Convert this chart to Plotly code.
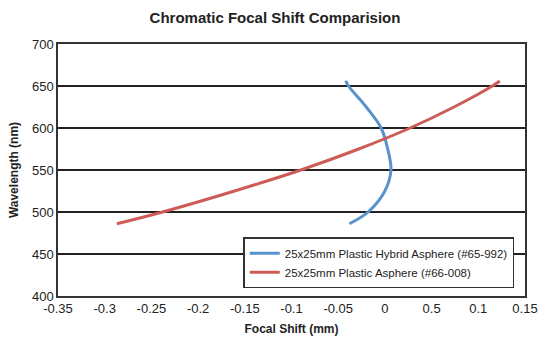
import plotly.graph_objects as go

# Wavelength samples (nm) and focal shift (mm) for each lens
wavelength_hybrid = [486, 500, 525, 550, 575, 600, 625, 650, 656]
shift_hybrid = [-0.038, -0.018, 0.000, 0.0065, 0.003, -0.004, -0.020, -0.039, -0.042]

wavelength_plastic = [486, 500, 525, 550, 575, 600, 625, 650, 656]
shift_plastic = [-0.287, -0.238, -0.161, -0.090, -0.028, 0.027, 0.074, 0.115, 0.123]

name_hybrid = "25x25mm Plastic Hybrid Asphere (#65-992)"
name_plastic = "25x25mm Plastic Asphere (#66-008)"

x_tick_vals = [-0.35, -0.3, -0.25, -0.2, -0.15, -0.1, -0.05, 0, 0.05, 0.1, 0.15]
x_tick_text = ["-0.35", "-0.3", "-0.25", "-0.2", "-0.15", "-0.1", "-0.05", "0", "0.5", "0.1", "0.15"]
y_tick_vals = [400, 450, 500, 550, 600, 650, 700]

FONT = "Liberation Sans, Arial, sans-serif"

fig = go.Figure()
fig.add_trace(go.Scatter(
    x=shift_hybrid, y=wavelength_hybrid, mode="lines", name=name_hybrid,
    line=dict(color="#5893CB", width=3, shape="spline"),
))
fig.add_trace(go.Scatter(
    x=shift_plastic, y=wavelength_plastic, mode="lines", name=name_plastic,
    line=dict(color="#CD5C57", width=3, shape="spline"),
))

fig.update_layout(
    width=550, height=346,
    margin=dict(l=58, r=22, t=44, b=48),
    paper_bgcolor="white", plot_bgcolor="white",
    font=dict(family=FONT, size=13, color="#222"),
    title=dict(text="<b>Chromatic Focal Shift Comparision</b>", x=0.5, xanchor="center",
               y=0.95, yanchor="middle", font=dict(size=15, color="#222", family=FONT)),
    showlegend=True,
    legend=dict(
        x=0.977, y=0.031, xanchor="right", yanchor="bottom",
        bgcolor="white", bordercolor="#333", borderwidth=1.5,
        font=dict(size=11.5, family=FONT, color="#222"),
        tracegroupgap=0, itemwidth=30,
    ),
)

fig.update_xaxes(
    range=[-0.35, 0.15], tickvals=x_tick_vals, ticktext=x_tick_text,
    showgrid=False, zeroline=False, showline=True, linecolor="#333", linewidth=1.5,
    mirror=True, ticks="", tickfont=dict(size=13),
    title=dict(text="<b>Focal Shift (mm)</b>", font=dict(size=12), standoff=9),
)
fig.update_yaxes(
    range=[400, 700], tickvals=y_tick_vals,
    showgrid=True, gridcolor="#222", gridwidth=1.5, zeroline=False,
    showline=True, linecolor="#333", linewidth=1.5, mirror=True, ticks="",
    tickfont=dict(size=13),
    title=dict(text="<b>Wavelength (nm)</b>", font=dict(size=12), standoff=11),
)

fig.write_html("out.html")
